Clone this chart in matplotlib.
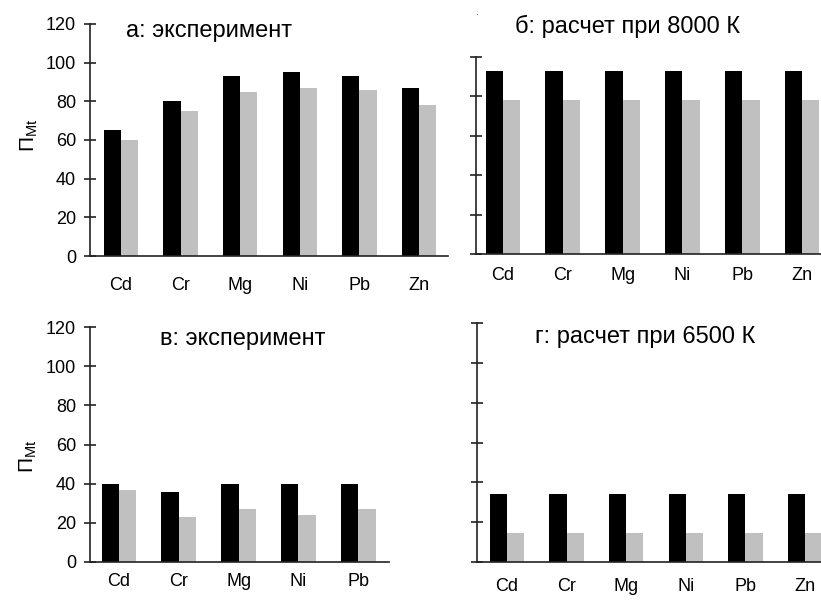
import matplotlib
matplotlib.use("Agg")
import matplotlib.pyplot as plt
import numpy as np

plt.rcParams['font.family'] = ['Liberation Sans', 'DejaVu Sans']
plt.rcParams['mathtext.default'] = 'regular'

# ---- data ----
cats6 = ['Cd', 'Cr', 'Mg', 'Ni', 'Pb', 'Zn']
cats5 = ['Cd', 'Cr', 'Mg', 'Ni', 'Pb']

a_black = [65, 80, 93, 95, 93, 87]
a_gray = [60, 75, 85, 87, 86, 78]

b_black = [93, 93, 93, 93, 93, 93]
b_gray = [78, 78, 78, 78, 78, 78]

c_black = [40, 35.5, 40, 40, 40]
c_gray = [37, 23, 27, 24, 27]

d_black = [34, 34, 34, 34, 34, 34]
d_gray = [14.5, 14.5, 14.5, 14.5, 14.5, 14.5]

titles = ['а: эксперимент', 'б: расчет при 8000 К', 'в: эксперимент', 'г: расчет при 6500 К']
ylab = 'П$_{\\mathregular{Mt}}$'

W, H = 821, 600
fig = plt.figure(figsize=(W / 100, H / 100), dpi=100)


def px_axes(left, right, top, bottom):
    return fig.add_axes([left / W, 1 - bottom / H, (right - left) / W, (bottom - top) / H])


BW = 0.29
BLACK = '#000000'
GRAY = '#c0c0c0'


def panel(ax, cats, blk, gry, xlim, ylim, yticks, show_ylabels, xpad):
    x = np.arange(len(cats))
    ax.bar(x, blk, width=-BW, align='edge', color=BLACK, edgecolor='none', zorder=2)
    ax.bar(x, gry, width=BW, align='edge', color=GRAY, edgecolor='none', zorder=2)
    ax.set_xlim(*xlim)
    ax.set_ylim(*ylim)
    ax.set_xticks(x)
    ax.set_xticklabels(cats, fontsize=13)
    ax.tick_params(axis='x', length=0, pad=xpad)
    ax.set_yticks(yticks)
    ax.tick_params(axis='y', direction='inout', length=9, width=1.2, pad=5.5,
                   labelsize=13, color='#222222')
    if not show_ylabels:
        ax.set_yticklabels([])
    for s in ['top', 'right']:
        ax.spines[s].set_visible(False)
    for s in ['left', 'bottom']:
        ax.spines[s].set_linewidth(1.2)
        ax.spines[s].set_color('#222222')
    ax.set_facecolor('none')
    for lab in ax.get_xticklabels():
        lab.set_clip_on(False)


# panel a
ax_a = px_axes(90, 448, 24, 256)
panel(ax_a, cats6, a_black, a_gray, ((90 - 121) / 59.6, (448 - 121) / 59.6), (0, 120),
      np.arange(0, 121, 20), True, 15)

# panel b
ax_b = px_axes(476, 821, 57, 254)
panel(ax_b, cats6, b_black, b_gray, ((476 - 503) / 59.8, (821 - 503) / 59.8), (0, 100),
      np.arange(0, 101, 20), False, 9.4)

# panel c
ax_c = px_axes(90, 389, 327, 562)
panel(ax_c, cats5, c_black, c_gray, ((90 - 119) / 59.8, (389 - 119) / 59.8), (0, 120),
      np.arange(0, 121, 20), True, 8)

# panel d
ax_d = px_axes(477, 821, 323, 562)
panel(ax_d, cats6, d_black, d_gray, ((477 - 507) / 59.6, (821 - 507) / 59.6), (0, 120),
      np.arange(0, 121, 20), False, 11.5)


def ftext(x, y, s, **kw):
    fig.text(x / W, 1 - y / H, s, **kw)


ftext(209, 37.3, titles[0], fontsize=17, ha='center', va='baseline')
ftext(627, 33, titles[1], fontsize=17, ha='center', va='baseline')
ftext(242.5, 345, titles[2], fontsize=17, ha='center', va='baseline')
ftext(645.5, 343, titles[3], fontsize=17, ha='center', va='baseline')

ftext(29, 135, ylab, fontsize=15, rotation=90, ha='center', va='center')
ftext(28, 456, ylab, fontsize=15, rotation=90, ha='center', va='center')

# small stray dot above panel b
ftext(477, 16, '·', fontsize=6, ha='center', va='center', color='#444444')

fig.savefig('out.png', dpi=100)
